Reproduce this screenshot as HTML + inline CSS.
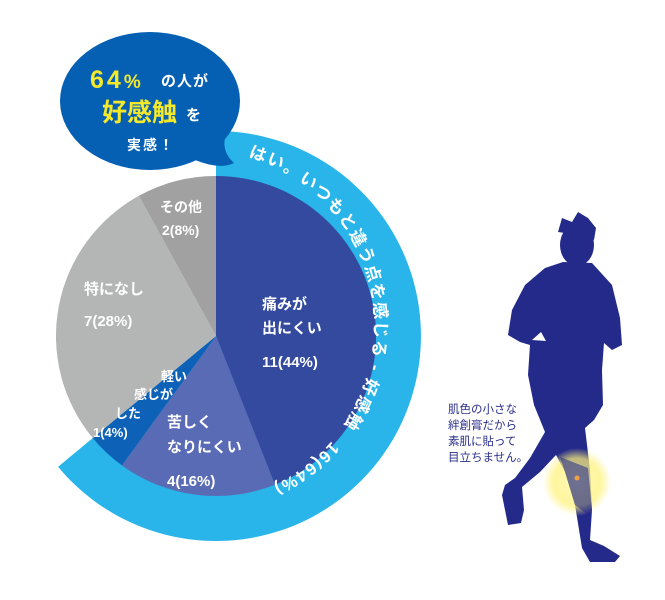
<!DOCTYPE html>
<html><head><meta charset="utf-8"><style>
body{margin:0;background:#fff;width:665px;height:600px;overflow:hidden;font-family:"Liberation Sans","Noto Sans CJK JP",sans-serif}
</style></head><body>
<svg width="665" height="600" viewBox="0 0 665 600" xmlns="http://www.w3.org/2000/svg" style="position:absolute;left:0;top:0">
<defs>
<radialGradient id="glow"><stop offset="0" stop-color="#fff9a0" stop-opacity="0.9"/><stop offset="0.7" stop-color="#fff27a" stop-opacity="0.85"/><stop offset="1" stop-color="#fff27a" stop-opacity="0"/></radialGradient>
<path id="tp" d="M 248.1 156.7 A 176 176 0 1 1 118 482"/>
</defs>
<path d="M216,336 L216,131 A205 205 0 1 1 58.1,466.8 Z" fill="#29b5ea"/>
<path d="M216,336 L216,176 A160 160 0 0 1 274.9,484.8 Z" fill="#334a9f"/>
<path d="M216,336 L274.9,484.8 A160 160 0 0 1 121.9,465.4 Z" fill="#5a6bb5"/>
<path d="M216,336 L121.9,465.4 A160 160 0 0 1 92.8,438.1 Z" fill="#0d62b8"/>
<path d="M216,336 L92.8,438.1 A160 160 0 0 1 138.9,195.8 Z" fill="#b4b5b5"/>
<path d="M216,336 L138.9,195.8 A160 160 0 0 1 216,176 Z" fill="#a1a1a1"/>
<path d="M195,160 Q220,170 234,163 Q222,152 225,138 Z" fill="#0560b4"/>
<ellipse cx="150" cy="101" rx="90" ry="69" fill="#0560b4"/>
<text x="90" y="88" font-size="25" font-weight="bold" fill="#f5e92a" letter-spacing="3">64<tspan font-size="19">%</tspan></text>
<text x="161" y="86" font-size="15" font-weight="bold" fill="#fff" letter-spacing="1">の人が</text>
<text x="102" y="121" font-size="25" font-weight="bold" fill="#f5e92a">好感触</text>
<text x="186" y="120" font-size="15" font-weight="bold" fill="#fff">を</text>
<text x="127" y="150" font-size="14" font-weight="bold" fill="#fff" letter-spacing="2">実感！</text>
<text font-size="17" font-weight="bold" fill="#fff" letter-spacing="1.5"><textPath href="#tp">はい。いつもと違う点を感じる - 好感触　16(64%)</textPath></text>
<g font-size="15" fill="#fff" font-weight="bold">
<text x="262" y="309">痛みが</text>
<text x="262" y="333">出にくい</text>
<text x="262" y="367">11(44%)</text>
<text x="167" y="427">苦しく</text>
<text x="167" y="452">なりにくい</text>
<text x="167" y="486">4(16%)</text>
<text x="84" y="294">特になし</text>
<text x="84" y="326">7(28%)</text>
<text x="160" y="212" font-size="14">その他</text>
<text x="162" y="235" font-size="14">2(8%)</text>
<g font-size="13"><text x="161" y="381">軽い</text><text x="134" y="399">感じが</text><text x="115" y="418">した</text><text x="93" y="437">1(4%)</text></g>
</g>
<g fill="#232a8a">
<ellipse cx="577" cy="245" rx="17" ry="21"/>
<path d="M558,232 L562,218 L572,222 L578,212 L588,218 L596,228 L594,240 L585,236 Z"/>
<path d="M563,262 L592,263 L612,285 L620,318 L622,345 L612,350 L604,343 L602,370 L603,405 L594,420 L585,428 L590,470 L592,510 L590,540 L604,546 L620,556 L615,562 L590,562 L582,548 L575,505 L565,472 L556,455 L540,472 L522,487 L524,510 L521,523 L508,525 L502,495 L505,485 L515,478 L530,458 L545,432 L534,405 L528,375 L530,345 L520,342 L508,335 L512,310 L525,285 L545,268 Z"/>
</g>
<path d="M532,340 L541,332 L546,341 Z" fill="#fff"/>
<circle cx="577" cy="482" r="34" fill="url(#glow)" opacity="0.85"/>
<path d="M560,457 L588,468 L592,510 L588,515 L575,505 L565,472 Z" fill="#232a8a" opacity="0.55"/>
<circle cx="577" cy="478" r="2.5" fill="#f0a040"/>
<g font-size="11.5" fill="#2a2f8a">
<text x="448" y="413">肌色の小さな</text>
<text x="448" y="429">絆創膏だから</text>
<text x="448" y="445">素肌に貼って</text>
<text x="448" y="461">目立ちません。</text>
</g>
</svg>
</body></html>
